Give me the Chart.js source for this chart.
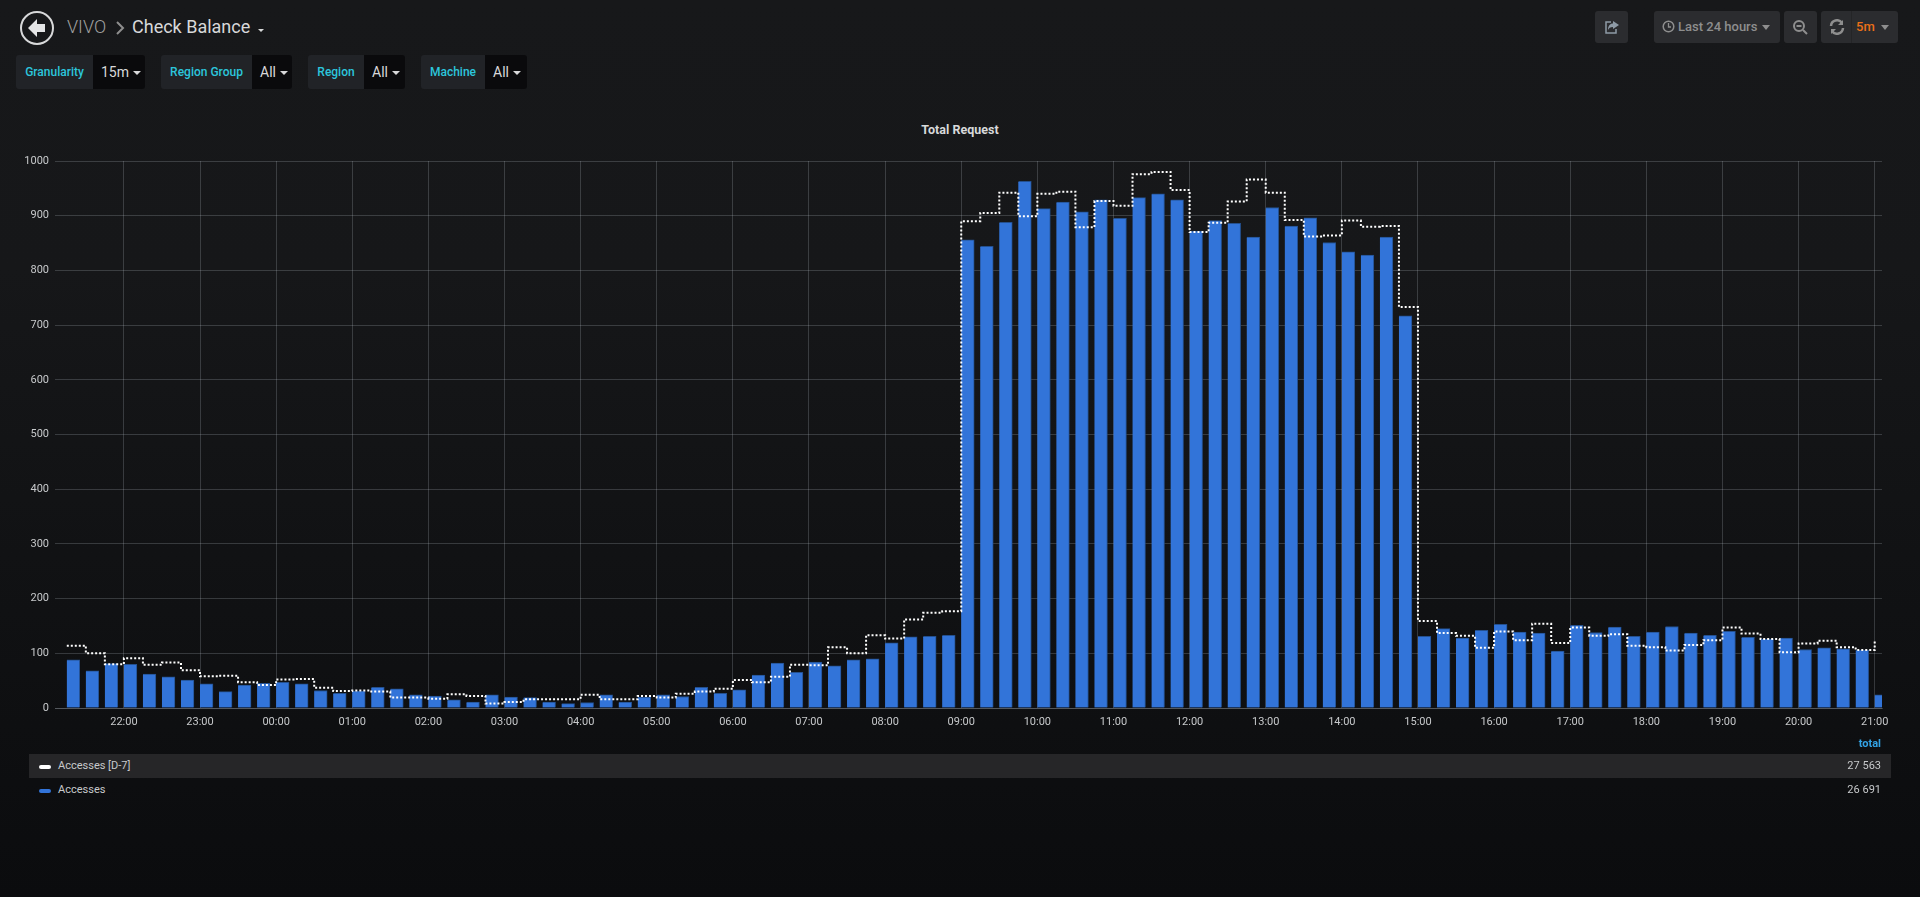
<!DOCTYPE html>
<html lang="en">
  <head>
    <meta charset="UTF-8">
    <title>Check Balance</title>
    <script src="https://cdn.jsdelivr.net/npm/chart.js"></script>
    <style>
      html, body { margin: 0; height: 100%; overflow: hidden; }
      body { width: 1920px; height: 897px; position: relative; font-family: Roboto, sans-serif; background: linear-gradient(#17181a 0, #161719 30%, #0b0c0e 100%); }
      .abs { position: absolute; white-space: nowrap; }
      #chartBox { position: absolute; left: 0; top: 110px; width: 1920px; height: 640px; }
      .var { position: absolute; top: 55px; height: 34px; line-height: 35px; font-size: 12px; border-radius: 3px; }
      .var .l { position: absolute; left: 0; top: 0; bottom: 0; background: #212327; color: #2cc6dc; font-weight: 500; text-align: center; border-radius: 3px 0 0 3px; }
      .var .v { position: absolute; top: 0; bottom: 0; right: 0; background: #0a0a0c; color: #d8d9da; font-size: 14px; padding-left: 8px; box-sizing: border-box; border-radius: 0 3px 3px 0; }
      .caret { display: inline-block; width: 0; height: 0; border-left: 4px solid transparent; border-right: 4px solid transparent; border-top: 4px solid #d8d9da; margin-left: 4px; vertical-align: middle; }
      .btn { position: absolute; top: 11px; height: 32px; background: #2b2c2f; border-radius: 3px; color: #8e8e8e; font-size: 13px; font-weight: 500; line-height: 32px; }
      .row { position: absolute; left: 29px; width: 1862px; height: 24px; line-height: 23px; font-size: 11px; color: #c7c9cb; }
      .row .sw { position: absolute; left: 10px; top: 11px; width: 12px; height: 4px; border-radius: 2px; }
      .row .nm { position: absolute; left: 29px; }
      .row .tot { position: absolute; right: 10px; }
    </style>
  </head>
  <body>
    <svg class="abs" style="left:19px;top:10px" width="36" height="36" viewBox="0 0 36 36">
      <circle cx="18" cy="18" r="16" fill="none" stroke="#d8d9da" stroke-width="2"/>
      <path d="M18 9 L9 18 L18 27 L18 22 L26 22 L26 14 L18 14 Z" fill="#e4e5e6"/>
    </svg>
    <div class="abs" style="left:67px;top:16px;font-size:18px;font-weight:300;color:#a0a0a0">VIVO</div>
    <svg class="abs" style="left:115px;top:21px" width="10" height="14" viewBox="0 0 10 14"><path d="M2 1 L8 7 L2 13" fill="none" stroke="#8e8e8e" stroke-width="2"/></svg>
    <div class="abs" style="left:132px;top:16px;font-size:18px;color:#d8d9da">Check Balance</div>
    <div class="abs caret" style="left:258px;top:29px;margin:0;border-width:3px 3.5px 0 3.5px"></div>

    <div class="var" style="left:16px;width:129px"><div class="l" style="width:77px">Granularity</div><div class="v" style="width:52px">15m<span class="caret"></span></div></div>
    <div class="var" style="left:161px;width:131px"><div class="l" style="width:91px">Region Group</div><div class="v" style="width:40px">All<span class="caret"></span></div></div>
    <div class="var" style="left:308px;width:97px"><div class="l" style="width:56px">Region</div><div class="v" style="width:41px">All<span class="caret"></span></div></div>
    <div class="var" style="left:421px;width:106px"><div class="l" style="width:64px">Machine</div><div class="v" style="width:42px">All<span class="caret"></span></div></div>

    <div class="btn" style="left:1595px;width:33px">
      <svg class="abs" style="left:9px;top:8px" width="16" height="16" viewBox="0 0 16 16"><path d="M9 2 L15 6 L9 10 L9 8 C6 8 5 9 4 11 C4 7 6 4.500 9 4.500 Z" fill="#8e9aa6"/><path d="M7 3 L2 3 L2 14 L12 14 L12 10" fill="none" stroke="#8e9aa6" stroke-width="1.500"/></svg>
    </div>
    <div class="btn" style="left:1654px;width:126px">
      <svg class="abs" style="left:8px;top:9px" width="13" height="13" viewBox="0 0 13 13"><circle cx="6.500" cy="6.500" r="5.300" fill="none" stroke="#8e8e8e" stroke-width="1.500"/><path d="M6.500 3 V7 H9" fill="none" stroke="#8e8e8e" stroke-width="1.300"/></svg>
      <span class="abs" style="left:24px">Last 24 hours</span><span class="abs caret" style="left:108px;top:14px;border-top-color:#8e8e8e;border-width:5px 4px 0 4px;margin:0"></span>
    </div>
    <div class="btn" style="left:1784px;width:33px">
      <svg class="abs" style="left:8px;top:8px" width="17" height="17" viewBox="0 0 17 17"><circle cx="7" cy="7" r="5" fill="none" stroke="#8e8e8e" stroke-width="2"/><path d="M4.500 7 H9.500 M11 11 L15 15" stroke="#8e8e8e" stroke-width="2"/></svg>
    </div>
    <div class="btn" style="left:1821px;width:77px">
      <svg class="abs" style="left:8px;top:8px" width="16" height="16" viewBox="0 0 16 16"><path d="M2 7 A6 6 0 0 1 13 4 M14 9 A6 6 0 0 1 3 12" fill="none" stroke="#8e8e8e" stroke-width="2.500"/><path d="M14 1 V6 H9 Z M2 15 V10 H7 Z" fill="#8e8e8e"/></svg>
      <span class="abs" style="left:30px;top:0;bottom:0;width:1px;background:#242527"></span>
      <span class="abs" style="left:35px;color:#eb7018">5m</span><span class="abs caret" style="left:60px;top:14px;border-top-color:#8e8e8e;border-width:5px 4px 0 4px;margin:0"></span>
    </div>

    <div class="abs" style="left:0;width:1920px;top:122px;text-align:center;font-size:12.5px;font-weight:700;color:#d8d9da">Total Request</div>

    <div id="chartBox"><canvas id="myChart"></canvas></div>

    <div class="abs" style="right:39px;top:737px;font-size:11px;font-weight:700;color:#33a2e5">total</div>
    <div id="legend"></div>

    <script>
      const times = [
        "21:15","21:30","21:45","22:00","22:15","22:30","22:45","23:00","23:15","23:30","23:45",
        "24:00","24:15","24:30","24:45","25:00","25:15","25:30","25:45","26:00","26:15","26:30","26:45",
        "27:00","27:15","27:30","27:45","28:00","28:15","28:30","28:45","29:00","29:15","29:30","29:45",
        "30:00","30:15","30:30","30:45","31:00","31:15","31:30","31:45","32:00","32:15","32:30","32:45",
        "33:00","33:15","33:30","33:45","34:00","34:15","34:30","34:45","35:00","35:15","35:30","35:45",
        "36:00","36:15","36:30","36:45","37:00","37:15","37:30","37:45","38:00","38:15","38:30","38:45",
        "39:00","39:15","39:30","39:45","40:00","40:15","40:30","40:45","41:00","41:15","41:30","41:45",
        "42:00","42:15","42:30","42:45","43:00","43:15","43:30","43:45","44:00","44:15","44:30","44:45","45:00"
      ];
      const accesses = [
        88,68,81,80,62,57,51,44,30,42,45,
        47,44,32,27,31,38,35,24,22,15,11,24,
        20,19,11,8,10,24,11,20,24,21,38,27,
        33,60,82,65,84,77,88,90,119,130,131,133,
        856,844,888,963,913,925,907,929,895,933,940,929,
        872,891,886,861,915,881,896,851,834,828,861,717,
        131,145,128,142,153,139,137,104,151,138,148,131,
        139,149,137,133,140,129,126,128,107,110,108,106,24
      ];
      const accessesD7 = [
        114,100,80,91,79,83,69,58,59,47,42,
        52,53,37,31,32,30,19,19,17,25,22,8,
        11,16,16,16,24,16,16,22,19,26,30,35,
        51,47,57,79,78,111,100,133,127,162,174,177,
        890,905,942,899,940,944,879,927,918,976,980,947,
        870,887,926,966,942,892,862,864,891,880,881,733,
        159,137,132,110,140,124,154,119,147,132,135,114,
        111,105,115,124,147,136,126,102,118,123,111,106,125
      ];
      const seriesNames = ["Accesses [D-7]", "Accesses"];
      const seriesTotals = ["27 563", "26 691"];
      const seriesColors = ["#ffffff", "#3274d9"];

      // times run past 24:00 so the axis stays linear, in minutes
      function toMinutes(t) {
        const p = t.split(":");
        return Number(p[0]) * 60 + Number(p[1]);
      }

      function minutesLabel(m) {
        const h = Math.floor(m / 60) % 24;
        return String(h).padStart(2, "0") + ":00";
      }

      // grafana draws bars from the timestamp onwards, not centred on it
      const barShift = 5.1;

      const grid = "rgba(199,208,217,0.21)";
      const tickFont = { family: "Roboto", size: 11 };

      new Chart(document.getElementById("myChart"), {
        data: {
          datasets: [
            {
              type: "line",
              label: seriesNames[0],
              data: times.map((t, i) => ({ x: toMinutes(t), y: accessesD7[i] })),
              borderColor: seriesColors[0],
              borderWidth: 2,
              borderDash: [2, 2],
              stepped: true,
              pointRadius: 0,
              order: 1
            },
            {
              type: "bar",
              label: seriesNames[1],
              data: times.map((t, i) => ({ x: toMinutes(t) + barShift, y: accesses[i] })),
              backgroundColor: seriesColors[1],
              borderColor: "#24508f",
              borderWidth: { top: 1, left: 0, right: 1, bottom: 0 },
              barThickness: 13,
              order: 2
            }
          ]
        },
        options: {
          responsive: true,
          maintainAspectRatio: false,
          animation: false,
          layout: { padding: { left: 0, right: 38, top: 51, bottom: 12 } },
          plugins: { legend: { display: false }, title: { display: false }, tooltip: { enabled: false } },
          scales: {
            x: {
              type: "linear",
              min: 1265.7,
              max: 2705.75,
              offset: false,
              afterFit: (s) => { s.height = 30; },
              // whole hours only, the range does not start on one
              afterBuildTicks: (s) => {
                s.ticks = times.filter((t) => t.endsWith(":00")).map((t) => ({ value: toMinutes(t) }));
              },
              grid: { color: grid, lineWidth: 1, drawTicks: false, offset: false },
              border: { color: grid },
              ticks: {
                autoSkip: false,
                maxRotation: 0,
                padding: 8,
                color: "#c7c9cb",
                font: tickFont,
                callback: (v) => minutesLabel(v)
              }
            },
            y: {
              min: 0,
              max: 1000,
              afterFit: (s) => { s.width = 55; },
              grid: { color: grid, lineWidth: 1, drawTicks: false },
              border: { display: false },
              ticks: { stepSize: 100, padding: 6, color: "#c7c9cb", font: tickFont, callback: (v) => String(v) }
            }
          }
        }
      });

      // legend table
      const legend = document.getElementById("legend");
      seriesNames.forEach((name, i) => {
        const row = document.createElement("div");
        row.className = "row";
        row.style.top = (754 + i * 24) + "px";
        if (i === 0) row.style.background = "#262628";
        row.innerHTML = '<span class="sw" style="background:' + seriesColors[i] + '"></span>' +
          '<span class="nm">' + name + '</span><span class="tot">' + seriesTotals[i] + '</span>';
        legend.appendChild(row);
      });
    </script>
  </body>
</html>
